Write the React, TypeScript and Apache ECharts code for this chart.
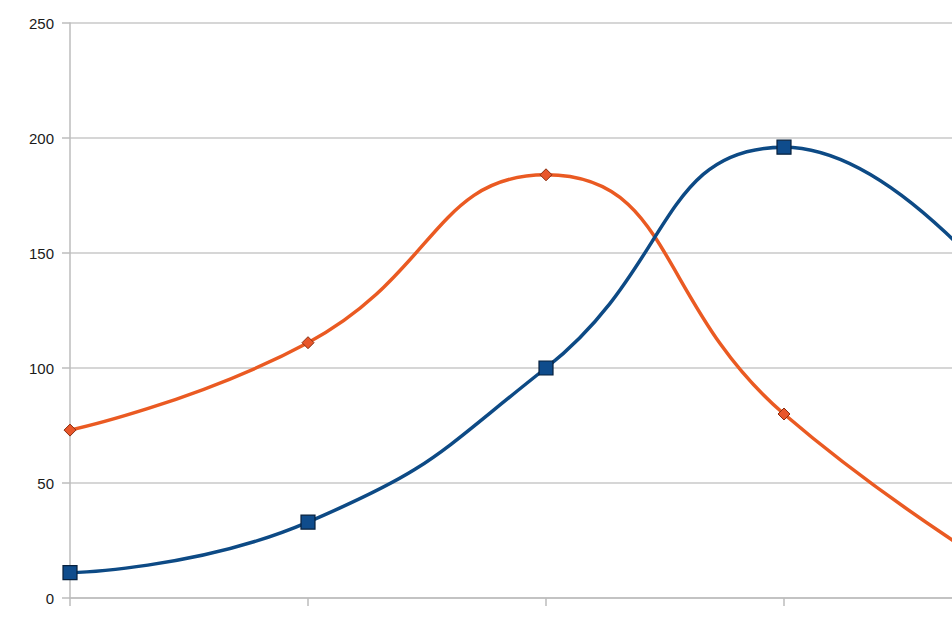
import React, { useEffect, useRef } from "react";
import * as echarts from "echarts";

const categories = ["1", "2", "3", "4", "5"];
const blueValues = [11, 33, 100, 196, 122];
const orangeValues = [73, 111, 184, 80, 6];
const yTicks = { min: 0, max: 250, interval: 50 };

export default function App() {
  const ref = useRef<HTMLDivElement>(null);
  useEffect(() => {
    const chart = echarts.init(ref.current!, null, { renderer: "svg" });
    chart.setOption({
      animation: false,
      backgroundColor: "#ffffff",
      grid: { left: 70, top: 23, height: 575, width: 952, containLabel: false },
      xAxis: {
        type: "category",
        data: categories,
        boundaryGap: false,
        axisLine: { show: true, lineStyle: { color: "#bdbdbd", width: 1.5 } },
        axisTick: { show: true, length: 8, lineStyle: { color: "#bdbdbd", width: 1.5 } },
        axisLabel: { show: false },
        splitLine: { show: false },
      },
      yAxis: {
        type: "value",
        min: yTicks.min,
        max: yTicks.max,
        interval: yTicks.interval,
        axisLine: { show: true, lineStyle: { color: "#bdbdbd", width: 1.5 } },
        axisTick: { show: true, length: 8, lineStyle: { color: "#bdbdbd", width: 1.5 } },
        axisLabel: {
          margin: 16,
          color: "#1a1a1a",
          fontFamily: "Liberation Sans, Arial, sans-serif",
          fontSize: 15,
        },
        splitLine: { show: true, lineStyle: { color: "#c8c8c8", width: 1.5 } },
      },
      series: [
        {
          type: "line",
          data: orangeValues,
          smooth: 0.5,
          symbol: "diamond",
          symbolSize: 12,
          lineStyle: { color: "#ea5a22", width: 3.5 },
          itemStyle: { color: "#e8562a", borderColor: "#8a2e10", borderWidth: 1 },
          z: 2,
        },
        {
          type: "line",
          data: blueValues,
          smooth: 0.5,
          symbol: "rect",
          symbolSize: 14,
          lineStyle: { color: "#0d4a85", width: 3.5 },
          itemStyle: { color: "#0f4c8c", borderColor: "#07203d", borderWidth: 1.2 },
          z: 3,
        },
      ],
    });
    return () => chart.dispose();
  }, []);
  return (
    <div
      style={{ position: "fixed", left: 0, top: 0, width: 952, height: 638, overflow: "hidden", background: "#fff" }}
    >
      <div ref={ref} style={{ width: 1100, height: 638 }} />
    </div>
  );
}
